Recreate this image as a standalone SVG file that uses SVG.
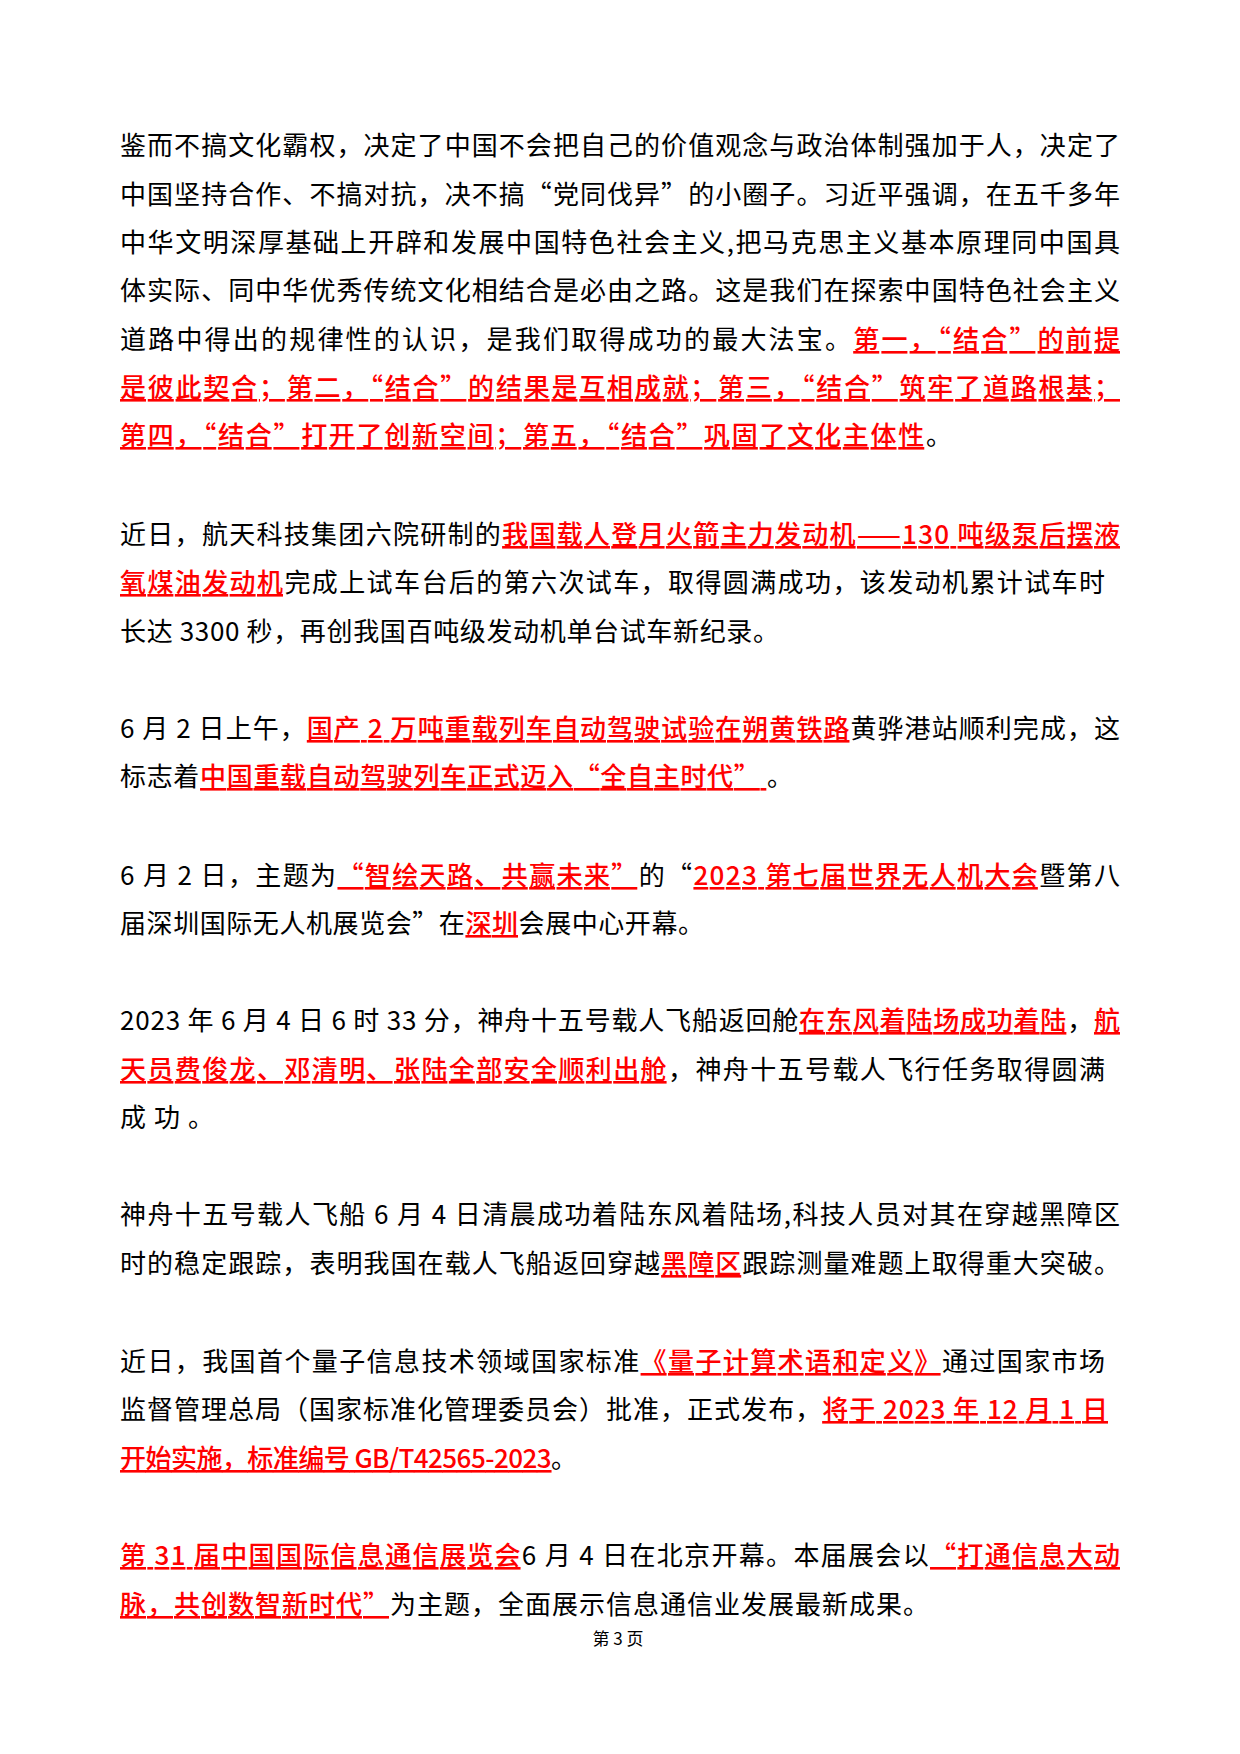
<svg xmlns="http://www.w3.org/2000/svg" width="1240" height="1754" viewBox="0 0 1240 1754">
<style>
text{font-family:"Noto Sans CJK SC","Noto Sans",sans-serif;font-size:26px;fill:#000}
.r{fill:#f00;text-decoration:underline;font-weight:500}
.pg{font-size:17px}
</style>
<rect width="1240" height="1754" fill="#fff"/>
<g id="p1">
<text x="120" y="155" textLength="1000" lengthAdjust="spacing">鉴而不搞文化霸权，决定了中国不会把自己的价值观念与政治体制强加于人，决定了</text>
<text x="120" y="204" textLength="1000" lengthAdjust="spacing">中国坚持合作、不搞对抗，决不搞“党同伐异”的小圈子。习近平强调，在五千多年</text>
<text x="120" y="252" textLength="1000" lengthAdjust="spacing">中华文明深厚基础上开辟和发展中国特色社会主义,把马克思主义基本原理同中国具</text>
<text x="120" y="300" textLength="1000" lengthAdjust="spacing">体实际、同中华优秀传统文化相结合是必由之路。这是我们在探索中国特色社会主义</text>
<text x="120" y="349" textLength="1000" lengthAdjust="spacing">道路中得出的规律性的认识，是我们取得成功的最大法宝。<tspan class="r">第一，“结合”的前提</tspan></text>
<text x="120" y="397" textLength="1000" lengthAdjust="spacing"><tspan class="r">是彼此契合；第二，“结合”的结果是互相成就；第三，“结合”筑牢了道路根基；</tspan></text>
<text x="120" y="445" textLength="832" lengthAdjust="spacing"><tspan class="r">第四，“结合”打开了创新空间；第五，“结合”巩固了文化主体性</tspan>。</text>
</g>
<g id="p2">
<text x="120" y="544" textLength="1000" lengthAdjust="spacing">近日，航天科技集团六院研制的<tspan class="r">我国载人登月火箭主力发动机——130 吨级泵后摆液</tspan></text>
<text x="120" y="592" textLength="985" lengthAdjust="spacing"><tspan class="r">氧煤油发动机</tspan>完成上试车台后的第六次试车，取得圆满成功，该发动机累计试车时</text>
<text x="120" y="641" textLength="659" lengthAdjust="spacing">长达 3300 秒，再创我国百吨级发动机单台试车新纪录。</text>
</g>
<g id="p3">
<text x="120" y="738" textLength="1000" lengthAdjust="spacing">6 月 2 日上午，<tspan class="r">国产 2 万吨重载列车自动驾驶试验在朔黄铁路</tspan>黄骅港站顺利完成，这</text>
<text x="120" y="786" textLength="673" lengthAdjust="spacing">标志着<tspan class="r">中国重载自动驾驶列车正式迈入“全自主时代” </tspan>。</text>
</g>
<g id="p4">
<text x="120" y="885" textLength="1000" lengthAdjust="spacing">6 月 2 日，主题为<tspan class="r">“智绘天路、共赢未来”</tspan>的“<tspan class="r">2023 第七届世界无人机大会</tspan>暨第八</text>
<text x="120" y="933" textLength="584" lengthAdjust="spacing">届深圳国际无人机展览会”在<tspan class="r">深圳</tspan>会展中心开幕。</text>
</g>
<g id="p5">
<text x="120" y="1030" textLength="1000" lengthAdjust="spacing">2023 年 6 月 4 日 6 时 33 分，神舟十五号载人飞船返回舱<tspan class="r">在东风着陆场成功着陆</tspan>，<tspan class="r">航</tspan></text>
<text x="120" y="1079" textLength="985" lengthAdjust="spacing"><tspan class="r">天员费俊龙、邓清明、张陆全部安全顺利出舱</tspan>，神舟十五号载人飞行任务取得圆满</text>
<text x="120" y="1127" letter-spacing="8">成功。</text>
</g>
<g id="p6">
<text x="120" y="1224" textLength="1000" lengthAdjust="spacing">神舟十五号载人飞船 6 月 4 日清晨成功着陆东风着陆场,科技人员对其在穿越黑障区</text>
<text x="120" y="1273" textLength="1000" lengthAdjust="spacing">时的稳定跟踪，表明我国在载人飞船返回穿越<tspan class="r">黑障区</tspan>跟踪测量难题上取得重大突破。</text>
</g>
<g id="p7">
<text x="120" y="1371" textLength="985" lengthAdjust="spacing">近日，我国首个量子信息技术领域国家标准<tspan class="r">《量子计算术语和定义》</tspan>通过国家市场</text>
<text x="120" y="1419" textLength="988" lengthAdjust="spacing">监督管理总局（国家标准化管理委员会）批准，正式发布，<tspan class="r">将于 2023 年 12 月 1 日</tspan></text>
<text x="120" y="1468" textLength="457" lengthAdjust="spacing"><tspan class="r">开始实施，标准编号 GB/T42565-2023</tspan>。</text>
</g>
<g id="p8">
<text x="120" y="1565" textLength="1000" lengthAdjust="spacing"><tspan class="r">第 31 届中国国际信息通信展览会</tspan>6 月 4 日在北京开幕。本届展会以<tspan class="r">“打通信息大动</tspan></text>
<text x="120" y="1614" textLength="809" lengthAdjust="spacing"><tspan class="r">脉，共创数智新时代”</tspan>为主题，全面展示信息通信业发展最新成果。</text>
</g>
<g id="footer">
<text class="pg" x="618" y="1645" text-anchor="middle" xml:space="preserve">第 3 页</text>
</g>
</svg>
